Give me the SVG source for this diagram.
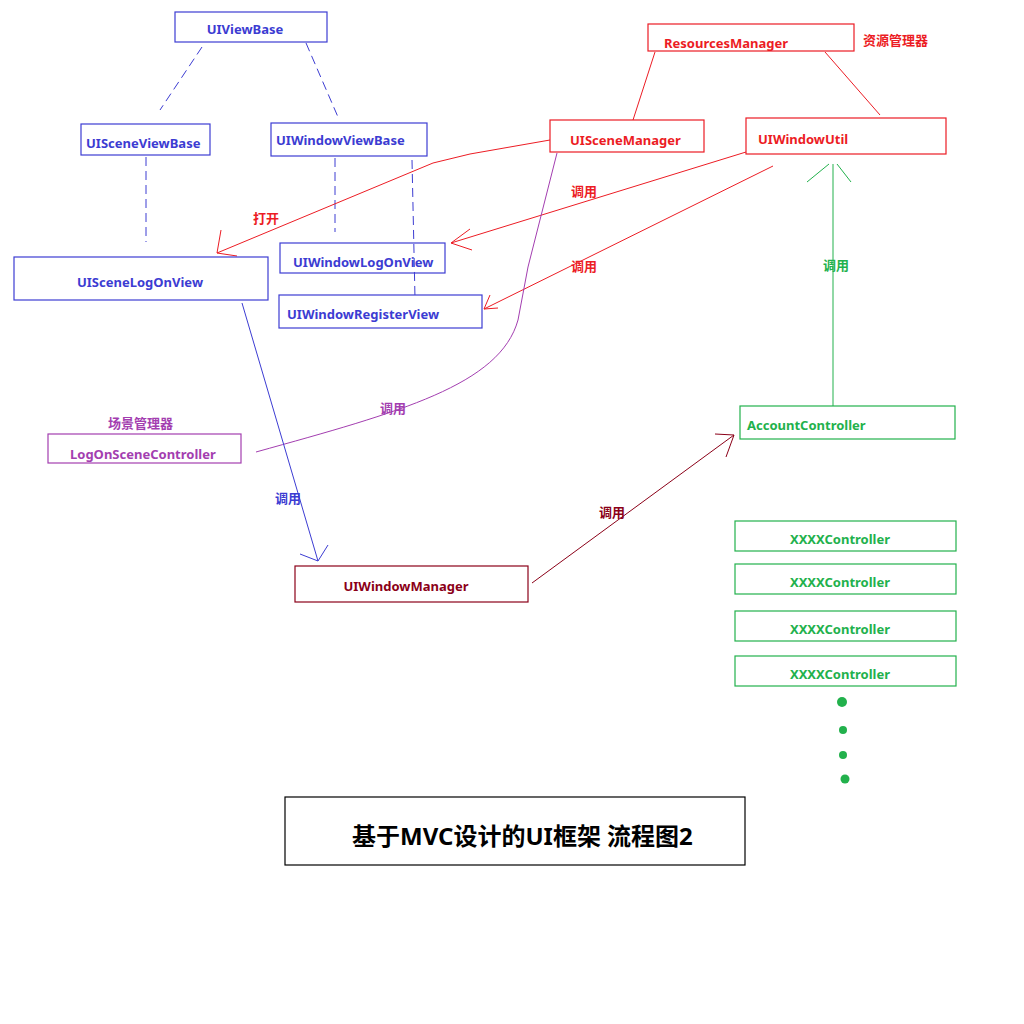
<svg xmlns="http://www.w3.org/2000/svg" width="1024" height="1024" viewBox="0 0 1024 1024">
<style>
text{font-family:"Noto Sans","Noto Sans CJK SC",sans-serif;font-weight:bold;font-size:13px}
.b rect{fill:none;stroke:#3c3cd2;stroke-width:1.2}
.b text,.tb{fill:#3c3cd2}
.r rect{fill:none;stroke:#ec1c24;stroke-width:1.2}
.r text,.tr{fill:#ec1c24}
.p rect{fill:none;stroke:#a33eb0;stroke-width:1.2}
.p text,.tp{fill:#a33eb0}
.d rect{fill:none;stroke:#8b0018;stroke-width:1.2}
.d text,.td{fill:#8b0018}
.g rect{fill:none;stroke:#22b14c;stroke-width:1.2}
.g text,.tg{fill:#22b14c}
.c{fill:none;stroke-width:1}
.dash{stroke:#3c3cd2;stroke-dasharray:9,5}
#title text{font-size:24px;fill:#000}
</style>
<rect width="1024" height="1024" fill="#fff"/>
<g id="connectors">
<line class="c dash" x1="202" y1="47" x2="160" y2="110"/>
<line class="c dash" x1="306" y1="43" x2="338" y2="117"/>
<line class="c dash" x1="146" y1="157" x2="146" y2="242"/>
<line class="c dash" x1="335" y1="158" x2="335" y2="232"/>
<line class="c dash" x1="412" y1="160" x2="415" y2="298"/>
<path class="c" stroke="#ec1c24" d="M550,140 L470,154 L433,163 L217,253 M221,230 L217,253 L237,256"/>
<path class="c" stroke="#ec1c24" d="M746,152 L451,243 M470,229 L451,243 L472,250"/>
<path class="c" stroke="#ec1c24" d="M773,166 L484,309 M490,295 L484,309 L498,308"/>
<path class="c" stroke="#ec1c24" d="M655,52 L633,120 M825,52 L880,115"/>
<path class="c" stroke="#a33eb0" d="M256,452 C400,412 500,385 518,320 L528,267 L557,153"/>
<path class="c" stroke="#3c3cd2" d="M242,303 L318,561 M300,554 L318,561 L328,545"/>
<path class="c" stroke="#8b0018" d="M532,583 L734,435 M715,434 L734,435 L726,457"/>
<path class="c" stroke="#22b14c" d="M833,406 L833,164 M807,182 L829,164 M837,164 L851,182"/>
<text class="tr" x="253" y="223">打开</text>
<text class="tr" x="571" y="196">调用</text>
<text class="tr" x="571" y="271">调用</text>
<text class="tp" x="380" y="413">调用</text>
<text class="tb" x="275" y="503">调用</text>
<text class="td" x="599" y="517">调用</text>
<text class="tg" x="823" y="270">调用</text>
</g>
<g id="UIViewBase" class="b"><rect x="175" y="12" width="152" height="30"/><text x="245" y="34" text-anchor="middle">UIViewBase</text></g>
<g id="UISceneViewBase" class="b"><rect x="81" y="124" width="129" height="31"/><text x="86" y="148">UISceneViewBase</text></g>
<g id="UIWindowViewBase" class="b"><rect x="271" y="123" width="156" height="33"/><text x="276" y="145">UIWindowViewBase</text></g>
<g id="UISceneLogOnView" class="b"><rect x="14" y="257" width="254" height="43"/><text x="140" y="287" text-anchor="middle">UISceneLogOnView</text></g>
<g id="UIWindowLogOnView" class="b"><rect x="280" y="243" width="165" height="30"/><text x="293" y="267">UIWindowLogOnView</text></g>
<g id="UIWindowRegisterView" class="b"><rect x="279" y="295" width="203" height="33"/><text x="287" y="319">UIWindowRegisterView</text></g>
<g id="ResourcesManager" class="r"><rect x="648" y="24" width="206" height="27"/><text x="664" y="48">ResourcesManager</text></g>
<text class="tr" x="863" y="45">资源管理器</text>
<g id="UISceneManager" class="r"><rect x="550" y="120" width="154" height="32"/><text x="570" y="145">UISceneManager</text></g>
<g id="UIWindowUtil" class="r"><rect x="746" y="118" width="200" height="36"/><text x="758" y="144">UIWindowUtil</text></g>
<text class="tp" x="108" y="428">场景管理器</text>
<g id="LogOnSceneController" class="p"><rect x="48" y="434" width="193" height="29"/><text x="70" y="459">LogOnSceneController</text></g>
<g id="UIWindowManager" class="d"><rect x="295" y="566" width="233" height="36"/><text x="406" y="591" text-anchor="middle">UIWindowManager</text></g>
<g id="AccountController" class="g"><rect x="740" y="406" width="215" height="33"/><text x="747" y="430">AccountController</text></g>
<g id="XXXXController1" class="g"><rect x="735" y="521" width="221" height="30"/><text x="840" y="544" text-anchor="middle">XXXXController</text></g>
<g id="XXXXController2" class="g"><rect x="735" y="564" width="221" height="30"/><text x="840" y="587" text-anchor="middle">XXXXController</text></g>
<g id="XXXXController3" class="g"><rect x="735" y="611" width="221" height="30"/><text x="840" y="634" text-anchor="middle">XXXXController</text></g>
<g id="XXXXController4" class="g"><rect x="735" y="656" width="221" height="30"/><text x="840" y="679" text-anchor="middle">XXXXController</text></g>
<g id="dots" fill="#22b14c"><circle cx="842" cy="702" r="5"/><circle cx="843" cy="730" r="4"/><circle cx="843" cy="755" r="4"/><circle cx="845" cy="779" r="4.5"/></g>
<g id="title"><rect x="285" y="797" width="460" height="68" fill="none" stroke="#000" stroke-width="1.2"/><text x="352" y="845">基于MVC设计的UI框架 流程图2</text></g>
</svg>
